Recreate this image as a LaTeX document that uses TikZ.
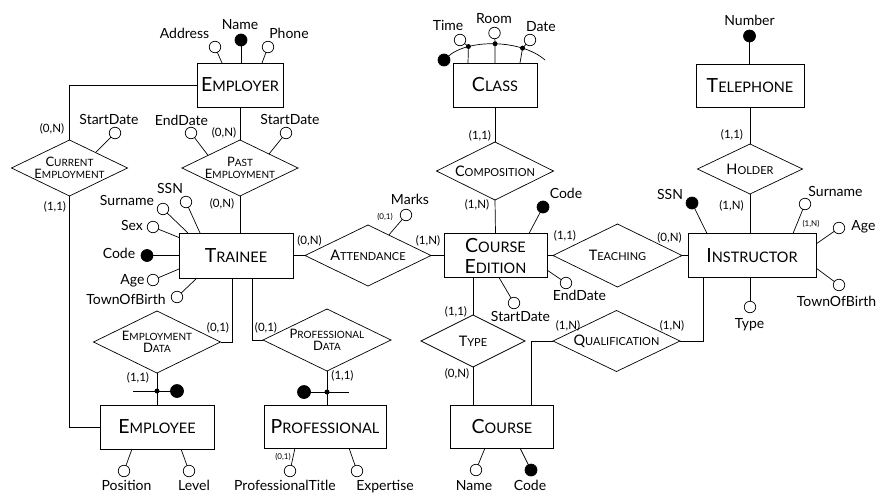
\documentclass[tikz,border=0pt]{standalone}
\usepackage{fontspec}
\setmainfont{Lato}
\usetikzlibrary{shapes.geometric,calc}

% names set as a large initial followed by smaller capitals
\newcommand\entname[2]{{\fontsize{19.5}{21}\selectfont #1}{\fontsize{14.5}{21}\selectfont #2}}
\newcommand\relname[2]{{\fontsize{13}{12.5}\selectfont #1}{\fontsize{10}{12.5}\selectfont #2}}
\newcommand\relnamebig[2]{{\fontsize{14.5}{14}\selectfont #1}{\fontsize{11}{14}\selectfont #2}}

\begin{document}
\begin{tikzpicture}[x=1pt,y=-1pt,line width=0.7pt,
  every node/.style={inner sep=0pt,outer sep=0pt},
  entity/.style 2 args={draw,rectangle,fill=white,minimum width=#1,minimum height=#2,
    align=center,font=\fontsize{14.5}{21}\selectfont},
  rel/.style 2 args={draw,diamond,fill=white,minimum width=#1,minimum height=#2},
  reltext/.style={align=center,font=\fontsize{10}{12.5}\selectfont},
  attr/.style={draw,circle,fill=white,minimum size=11.5pt},
  idattr/.style={draw,circle,fill=black,minimum size=12pt},
  extid/.style={draw,circle,fill=black,minimum size=13pt},
  junct/.style={circle,fill=black,minimum size=5pt},
  lbl/.style={font=\fontsize{14}{16}\selectfont,text height=10pt,text depth=0pt},
  card/.style={font=\fontsize{11.5}{13}\selectfont,text height=8.5pt,text depth=0pt},
  tinycard/.style={font=\fontsize{8}{9}\selectfont,text height=6pt,text depth=0pt},
]
\useasboundingbox[fill=white] (0,0) rectangle (878,493);

% ---------------- entities ----------------
\node[entity={86}{44}] (employer) at (240,85) {\entname{E}{MPLOYER}};
\node[entity={84}{44}] (class) at (495,85) {\entname{C}{LASS}};
\node[entity={108}{43}] (telephone) at (750,85.5) {\entname{T}{ELEPHONE}};
\node[entity={114}{45}] (trainee) at (236,255.5) {\entname{T}{RAINEE}};
\node[entity={103}{44}] (coursed) at (495.5,255.5) {\entname{C}{OURSE}\\\entname{E}{DITION}};
\node[entity={128}{44}] (instructor) at (752,255.5) {\entname{I}{NSTRUCTOR}};
\node[entity={114}{44}] (employee) at (157,427) {\entname{E}{MPLOYEE}};
\node[entity={122}{43}] (professional) at (325,426.5) {\entname{P}{ROFESSIONAL}};
\node[entity={103}{43}] (course) at (502,426.5) {\entname{C}{OURSE}};

% ---------------- relationships ----------------
\node[rel={116}{56}] (curremp) at (69.5,168) {};
\node[reltext] (curremp-t) at (curremp) {\relname{C}{URRENT}\\\relname{E}{MPLOYMENT}};
\node[rel={116}{56}] (pastemp) at (240,168) {};
\node[reltext] (pastemp-t) at (pastemp) {\relname{P}{AST}\\\relname{E}{MPLOYMENT}};
\node[rel={117}{58}] (compos) at (495,171) {};
\node[reltext] (compos-t) at (compos) {\relnamebig{C}{OMPOSITION}};
\node[rel={105}{50}] (holder) at (750,169) {};
\node[reltext] (holder-t) at (holder) {\relnamebig{H}{OLDER}};
\node[rel={126}{61}] (attend) at (368,255.5) {};
\node[reltext] (attend-t) at (attend) {\relnamebig{A}{TTENDANCE}};
\node[rel={129}{63}] (teach) at (617.5,255.5) {};
\node[reltext] (teach-t) at (teach) {\relnamebig{T}{EACHING}};
\node[rel={127}{62}] (empdata) at (157,342) {};
\node[reltext] (empdata-t) at (empdata) {\relname{E}{MPLOYMENT}\\\relname{D}{ATA}};
\node[rel={128}{62}] (profdata) at (327,340) {};
\node[reltext] (profdata-t) at (profdata) {\relname{P}{ROFESSIONAL}\\\relname{D}{ATA}};
\node[rel={104}{52}] (type) at (473,341) {};
\node[reltext] (type-t) at (type) {\relnamebig{T}{YPE}};
\node[rel={127}{61}] (qual) at (616.5,341) {};
\node[reltext] (qual-t) at (qual) {\relnamebig{Q}{UALIFICATION}};

% ---------------- links ----------------
\draw (employer.west) -| (curremp.north);
\draw (employer.south) -- (pastemp.north);
\draw (pastemp.south) -- (pastemp.south |- trainee.north);
\draw (curremp.south) |- (employee.west);
\draw ($(trainee.south)+(-4,0)$) |- (empdata.east);
\draw ($(trainee.south)+(16,0)$) |- (profdata.west);
\draw (trainee.east) -- (attend.west);
\draw (attend.east) -- (coursed.west);
\draw (class.south) -- (compos.north);
\draw (compos.south) -- (coursed.north);
\draw (type.north |- coursed.south) -- (type.north);
\draw (type.south) -- (type.south |- course.north);
\draw ($(course.north)+(29,0)$) |- (qual.west);
\draw (qual.east) -| ($(instructor.south)+(-49,0)$);
\draw (coursed.east) -- (teach.west);
\draw (teach.east) -- (instructor.west);
\draw (telephone.south) -- (holder.north);
\draw (holder.south) -- (holder.south |- instructor.north);
\draw (empdata.south) -- (employee.north);
\draw (profdata.south) -- (profdata.south |- professional.north);

% external identifiers
\node[extid] (empext) at (177,391) {};
\coordinate (empbar) at (133,391);
\draw (empbar) -- (empext);
\node[junct] (empj) at (157,391) {};
\node[extid] (profext) at (304,392) {};
\coordinate (profbar) at (349,392);
\draw (profext) -- (profbar);
\node[junct] (profj) at (327,392) {};

% ---------------- cardinalities ----------------
\node[card] (c1) at (52,128.5) {(0,N)};
\node[card] (c2) at (55,206) {(1,1)};
\node[card] (c3) at (224,132) {(0,N)};
\node[card] (c4) at (222,203.5) {(0,N)};
\node[card] (c5) at (480,135.5) {(1,1)};
\node[card] (c6) at (477,204) {(1,N)};
\node[card] (c7) at (732,134) {(1,1)};
\node[card] (c8) at (731.5,205) {(1,N)};
\node[card] (c9) at (309.5,240) {(0,N)};
\node[card] (c10) at (428,240) {(1,N)};
\node[card] (c11) at (565,235) {(1,1)};
\node[card] (c12) at (669.5,237) {(0,N)};
\node[card] (c13) at (218,327) {(0,1)};
\node[card] (c14) at (138,377) {(1,1)};
\node[card] (c15) at (266,327) {(0,1)};
\node[card] (c16) at (342.5,375) {(1,1)};
\node[card] (c17) at (456,311) {(1,1)};
\node[card] (c18) at (457,373) {(0,N)};
\node[card] (c19) at (568,325) {(1,N)};
\node[card] (c20) at (672,325) {(1,N)};

% ---------------- attributes: Employer ----------------
\node[attr] (emp-addr) at (215,47) {};
\node[lbl] (emp-addr-l) at (184.5,33) {Address};
\draw (emp-addr) -- ($(employer.north)+(-18,0)$);
\node[idattr] (emp-name) at (241,40) {};
\node[lbl] (emp-name-l) at (240,24.5) {Name};
\draw (emp-name) -- (emp-name |- employer.north);
\node[attr] (emp-phone) at (268,47) {};
\node[lbl] (emp-phone-l) at (289,33) {Phone};
\draw (emp-phone) -- ($(employer.north)+(22,0)$);

% relationship attributes
\node[attr] (ce-start) at (115,133) {};
\node[lbl] (ce-start-l) at (109,119) {StartDate};
\draw (ce-start) -- ($(curremp.north)!0.45!(curremp.east)$);
\node[attr] (pe-end) at (191,133) {};
\node[lbl] (pe-end-l) at (181.5,120) {EndDate};
\draw (pe-end) -- ($(pastemp.north)!0.55!(pastemp.west)$);
\node[attr] (pe-start) at (286,133) {};
\node[lbl] (pe-start-l) at (290,119) {StartDate};
\draw (pe-start) -- ($(pastemp.north)!0.5!(pastemp.east)$);
\node[attr] (at-marks) at (406,215) {};
\node[lbl] (at-marks-l) at (410,199.5) {Marks};
\node[tinycard] (at-marks-c) at (385,216) {(0,1)};
\draw (at-marks) -- ($(attend.north)!0.33!(attend.east)$);

% ---------------- attributes: Class (composite identifier) ----------------
\node[idattr] (cl-id) at (444,60) {};
\draw (cl-id) .. controls (468,39) and (521,39) .. (545,60)
  coordinate[pos=0.25] (cl-j1) coordinate[pos=0.5] (cl-j2) coordinate[pos=0.75] (cl-j3);
\node[attr] (cl-time) at (460,40) {};
\node[lbl] (cl-time-l) at (448,25) {Time};
\node[attr] (cl-room) at (494.5,33) {};
\node[lbl] (cl-room-l) at (494,18.5) {Room};
\node[attr] (cl-date) at (530,40) {};
\node[lbl] (cl-date-l) at (541,26) {Date};
\draw (cl-time) -- (cl-j1) -- ($(class.north)+(-27,0)$);
\draw (cl-room) -- (cl-j2) -- (class.north);
\draw (cl-date) -- (cl-j3) -- ($(class.north)+(25,0)$);
\node[junct] (cl-d1) at (cl-j1) {};
\node[junct] (cl-d2) at (cl-j2) {};
\node[junct] (cl-d3) at (cl-j3) {};

% ---------------- attributes: Telephone ----------------
\node[idattr] (tel-num) at (749.5,36) {};
\node[lbl] (tel-num-l) at (749.5,20.5) {Number};
\draw (tel-num) -- (tel-num |- telephone.north);

% ---------------- attributes: Trainee ----------------
\node[attr] (tr-ssn) at (186,202) {};
\node[lbl] (tr-ssn-l) at (170,188) {SSN};
\draw (tr-ssn) -- ($(trainee.north)+(-36,0)$);
\node[attr] (tr-sur) at (163,209) {};
\node[lbl] (tr-sur-l) at (127,200.5) {Surname};
\draw (tr-sur) -- ($(trainee.north)+(-48,0)$);
\node[attr] (tr-sex) at (153,227) {};
\node[lbl] (tr-sex-l) at (132,225) {Sex};
\draw (tr-sex) -- ($(trainee.west)+(0,-18)$);
\node[idattr] (tr-code) at (147,255.5) {};
\node[lbl] (tr-code-l) at (119,253.5) {Code};
\draw (tr-code) -- (trainee.west);
\node[attr] (tr-age) at (153,280) {};
\node[lbl] (tr-age-l) at (132.5,279) {Age};
\draw (tr-age) -- ($(trainee.west)+(0,13.5)$);
\node[attr] (tr-town) at (177,297) {};
\node[lbl] (tr-town-l) at (126,299) {TownOfBirth};
\draw (tr-town) -- ($(trainee.south)+(-39,0)$);

% ---------------- attributes: Course Edition ----------------
\node[idattr] (ced-code) at (543,207) {};
\node[lbl] (ced-code-l) at (566,193.5) {Code};
\draw (ced-code) -- ($(coursed.north)+(33.5,0)$);
\node[attr] (ced-end) at (566,283) {};
\node[lbl] (ced-end-l) at (579.5,295.5) {EndDate};
\draw (ced-end) -- ($(coursed.east)+(0,14.5)$);
\node[attr] (ced-start) at (514,303) {};
\node[lbl] (ced-start-l) at (520.5,316) {StartDate};
\draw (ced-start) -- ($(coursed.south)+(3.5,0)$);

% ---------------- attributes: Instructor ----------------
\node[idattr] (in-ssn) at (692,203) {};
\node[lbl] (in-ssn-l) at (670,194) {SSN};
\draw (in-ssn) -- ($(instructor.north)+(-45,0)$);
\node[attr] (in-sur) at (805,204) {};
\node[lbl] (in-sur-l) at (835.5,191) {Surname};
\node[tinycard] (in-sur-c) at (811,223) {(1,N)};
\draw (in-sur) -- ($(instructor.north)+(41,0)$);
\node[attr] (in-age) at (839,228) {};
\node[lbl] (in-age-l) at (863.5,225) {Age};
\draw (in-age) -- ($(instructor.east)+(0,-11.5)$);
\node[attr] (in-town) at (839,285) {};
\node[lbl] (in-town-l) at (836.5,301.5) {TownOfBirth};
\draw (in-town) -- ($(instructor.east)+(0,12.5)$);
\node[attr] (in-type) at (750,307) {};
\node[lbl] (in-type-l) at (749.5,323) {Type};
\draw (in-type) -- (in-type |- instructor.south);

% ---------------- attributes: Employee ----------------
\node[attr] (ee-pos) at (124,471) {};
\node[lbl] (ee-pos-l) at (126.5,485.5) {Position};
\draw (ee-pos) -- ($(employee.south)+(-25,0)$);
\node[attr] (ee-lev) at (189,471) {};
\node[lbl] (ee-lev-l) at (194,485.5) {Level};
\draw (ee-lev) -- ($(employee.south)+(24,0)$);

% ---------------- attributes: Professional ----------------
\node[attr] (pr-title) at (290,471) {};
\node[lbl] (pr-title-l) at (285,485.5) {ProfessionalTitle};
\node[tinycard] (pr-title-c) at (283,456) {(0,1)};
\draw (pr-title) -- ($(professional.south)+(-30,0)$);
\node[attr] (pr-exp) at (357,471) {};
\node[lbl] (pr-exp-l) at (385,485.5) {Expertise};
\draw (pr-exp) -- ($(professional.south)+(24,0)$);

% ---------------- attributes: Course ----------------
\node[attr] (co-name) at (476,470) {};
\node[lbl] (co-name-l) at (474,485.5) {Name};
\draw (co-name) -- ($(course.south)+(-17,0)$);
\node[idattr] (co-code) at (531,470) {};
\node[lbl] (co-code-l) at (530,485.5) {Code};
\draw (co-code) -- ($(course.south)+(18,0)$);
\end{tikzpicture}
\end{document}
